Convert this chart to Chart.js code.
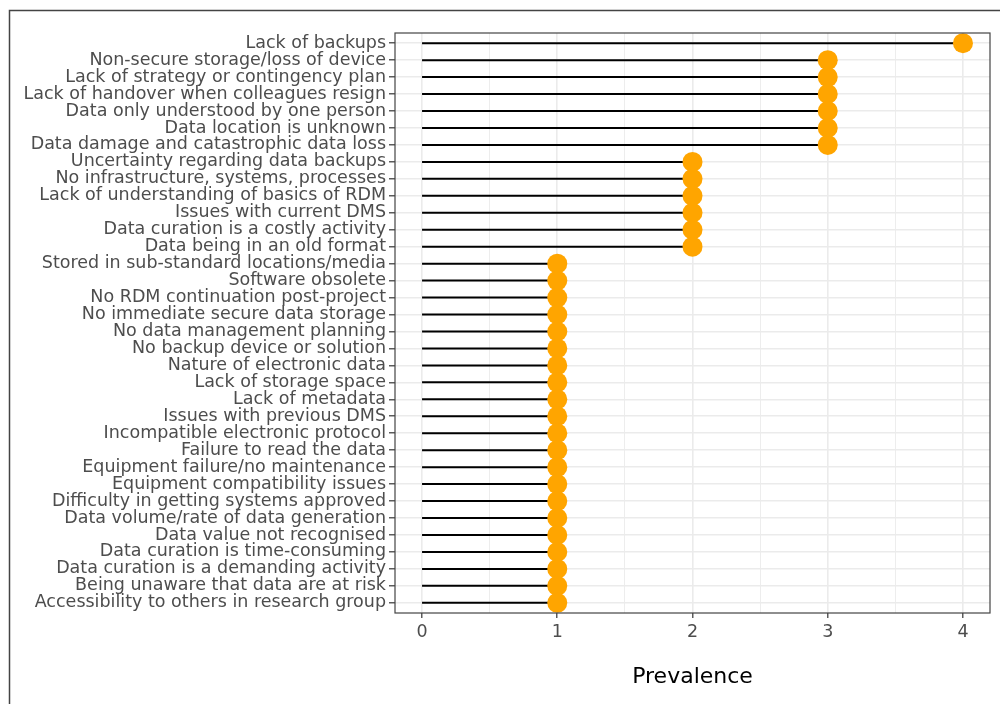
<!DOCTYPE html>
<html>
<head>
<meta charset="utf-8">
<script src="https://cdn.jsdelivr.net/npm/chart.js@4/dist/chart.umd.min.js"></script>
<style>
  body { margin: 0; background: #fff; }
  canvas { display: block; }
</style>
</head>
<body>
<canvas id="chart" width="1000" height="704"></canvas>
<script>
// Data ================================================================================================
const categories = [
    "Lack of backups",
    "Non-secure storage/loss of device",
    "Lack of strategy or contingency plan",
    "Lack of handover when colleagues resign",
    "Data only understood by one person",
    "Data location is unknown",
    "Data damage and catastrophic data loss",
    "Uncertainty regarding data backups",
    "No infrastructure, systems, processes",
    "Lack of understanding of basics of RDM",
    "Issues with current DMS",
    "Data curation is a costly activity",
    "Data being in an old format",
    "Stored in sub-standard locations/media",
    "Software obsolete",
    "No RDM continuation post-project",
    "No immediate secure data storage",
    "No data management planning",
    "No backup device or solution",
    "Nature of electronic data",
    "Lack of storage space",
    "Lack of metadata",
    "Issues with previous DMS",
    "Incompatible electronic protocol",
    "Failure to read the data",
    "Equipment failure/no maintenance",
    "Equipment compatibility issues",
    "Difficulty in getting systems approved",
    "Data volume/rate of data generation",
    "Data value not recognised",
    "Data curation is time-consuming",
    "Data curation is a demanding activity",
    "Being unaware that data are at risk",
    "Accessibility to others in research group"
];

const prevalence = [
    4, 3, 3, 3, 3, 3, 3,
    2, 2, 2, 2, 2, 2,
    1, 1, 1, 1, 1, 1, 1, 1, 1, 1, 1, 1, 1, 1, 1, 1, 1, 1, 1, 1, 1
];

const xTickValues = [0, 0.5, 1, 1.5, 2, 2.5, 3, 3.5, 4];

// Datasets ============================================================================================
const dots = {
    label: 'Prevalence',
    data: prevalence.map((v, i) => ({ x: v, y: i })),
    backgroundColor: '#FFA500',
    borderWidth: 0,
    pointRadius: 10,
    pointHoverRadius: 10,
    order: 0
};

const stems = categories.map((c, i) => ({
    label: c,
    data: [{ x: 0, y: i }, { x: prevalence[i], y: i }],
    showLine: true,
    borderColor: '#000',
    borderWidth: 2,
    pointRadius: 0,
    order: 1
}));

// frame around the figure and border around the panel
const frames = {
    id: 'frames',
    beforeDraw(chart) {
        const ctx = chart.ctx;
        ctx.save();
        ctx.fillStyle = '#fff';
        ctx.fillRect(0, 0, chart.width, chart.height);
        ctx.strokeStyle = '#444';
        ctx.lineWidth = 1.5;
        ctx.strokeRect(9.5, 10.5, 1100, 900);
        ctx.restore();
    },
    afterDatasetsDraw(chart) {
        const a = chart.chartArea;
        const ctx = chart.ctx;
        ctx.save();
        ctx.strokeStyle = '#444';
        ctx.lineWidth = 1.2;
        ctx.strokeRect(a.left, a.top, a.right - a.left, a.bottom - a.top);
        ctx.restore();
    }
};

const isMajor = v => Number.isInteger(v);

new Chart(document.getElementById('chart'), {
    type: 'scatter',
    data: { datasets: [dots, ...stems] },
    plugins: [frames],
    options: {
        responsive: false,
        animation: false,
        layout: { padding: { top: 33, right: 10, left: 0, bottom: 0 } },
        plugins: {
            legend: { display: false },
            tooltip: { enabled: false }
        },
        scales: {
            x: {
                type: 'linear',
                position: 'bottom',
                min: -0.2,
                max: 4.2,
                afterBuildTicks: s => { s.ticks = xTickValues.map(v => ({ value: v })); },
                afterFit: s => { s.height = 91; },
                border: { display: false },
                grid: {
                    color: '#ebebeb',
                    lineWidth: ctx => (ctx.tick && isMajor(ctx.tick.value)) ? 1.6 : 0.9,
                    tickColor: ctx => (ctx.tick && isMajor(ctx.tick.value)) ? '#333' : 'rgba(0,0,0,0)',
                    tickLength: 5,
                    tickWidth: 1.2
                },
                ticks: {
                    autoSkip: false,
                    maxRotation: 0,
                    padding: 4,
                    color: '#4d4d4d',
                    font: { family: 'DejaVu Sans', size: 17.5 },
                    callback: v => isMajor(v) ? String(v) : ''
                },
                title: {
                    display: true,
                    text: 'Prevalence',
                    color: '#000',
                    font: { family: 'DejaVu Sans', size: 22 },
                    padding: { top: 0, bottom: 14 }
                }
            },
            y: {
                type: 'linear',
                reverse: true,
                min: -0.6,
                max: categories.length - 0.4,
                afterBuildTicks: s => { s.ticks = categories.map((c, i) => ({ value: i })); },
                afterFit: s => { s.width = 395; },
                border: { display: false },
                grid: {
                    color: '#ebebeb',
                    lineWidth: 1.6,
                    tickColor: '#333',
                    tickLength: 6,
                    tickWidth: 1.2
                },
                ticks: {
                    autoSkip: false,
                    padding: 3,
                    color: '#4d4d4d',
                    font: { family: 'DejaVu Sans', size: 17.5 },
                    callback: v => categories[v]
                }
            }
        }
    }
});
</script>
</body>
</html>
